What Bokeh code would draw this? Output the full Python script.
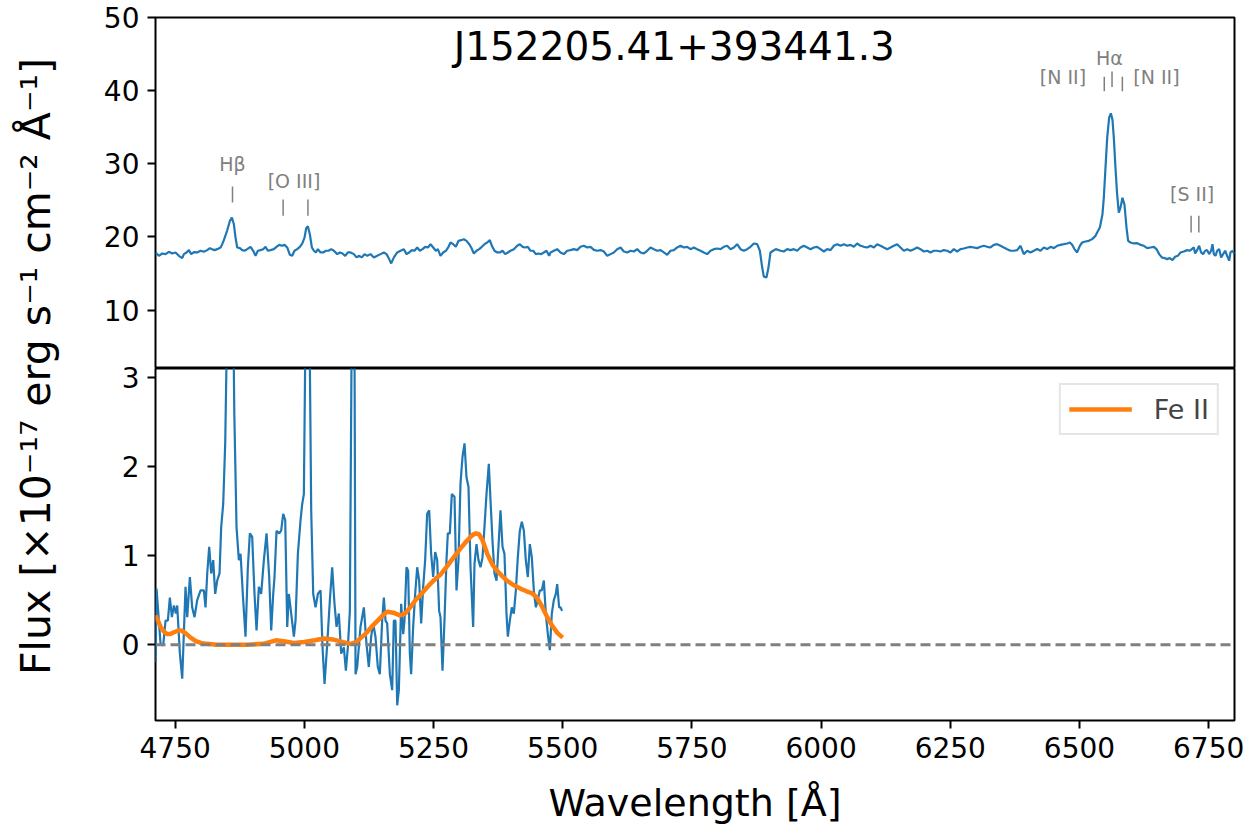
from math import pi
from bokeh.plotting import figure
from bokeh.layouts import row, column
from bokeh.models import Label, Range1d, FixedTicker, Span, Legend, LegendItem
from bokeh.embed import file_html
from bokeh.resources import INLINE
from bokeh.core.properties import value

FONT = "DejaVu Sans"

# ---------------- data: observed spectrum (top panel) ----------------
wl_top = [4712.1, 4718.5, 4725.0, 4731.4, 4737.9, 4744.3, 4750.8, 4757.2, 4763.7, 4766.9,
          4772.1, 4776.6, 4781.1, 4786.3, 4792.7, 4799.2, 4805.6, 4812.1, 4817.2, 4821.7,
          4826.2, 4831.4, 4837.9, 4841.1, 4844.3, 4850.8, 4855.9, 4859.8, 4863.7, 4866.9,
          4870.1, 4875.3, 4879.8, 4884.3, 4889.5, 4895.9, 4901.1, 4905.6, 4910.1, 4915.3,
          4920.4, 4924.9, 4929.4, 4934.6, 4941.0, 4946.2, 4951.4, 4956.5, 4961.7, 4966.9,
          4972.0, 4976.5, 4981.0, 4986.2, 4991.4, 4995.9, 5000.4, 5003.6, 5006.8, 5010.7,
          5014.6, 5018.5, 5022.3, 5026.2, 5031.4, 5036.5, 5041.7, 5046.8, 5052.0, 5057.2,
          5063.6, 5068.8, 5073.9, 5079.1, 5084.2, 5089.4, 5095.9, 5101.0, 5106.2, 5111.3,
          5116.5, 5121.7, 5128.1, 5134.6, 5141.0, 5147.5, 5153.9, 5159.1, 5164.2, 5168.1,
          5173.3, 5179.7, 5186.2, 5192.6, 5197.8, 5202.9, 5208.1, 5213.2, 5218.4, 5223.6,
          5228.7, 5233.9, 5239.0, 5244.2, 5249.4, 5254.5, 5258.4, 5263.5, 5268.7, 5273.9,
          5279.0, 5282.9, 5288.0, 5293.2, 5298.4, 5303.5, 5308.7, 5313.9, 5319.0, 5322.9,
          5328.1, 5333.2, 5338.4, 5343.5, 5348.7, 5353.9, 5359.0, 5362.9, 5368.0, 5373.2,
          5378.4, 5383.5, 5388.7, 5393.8, 5399.0, 5405.5, 5411.9, 5417.1, 5422.2, 5427.4,
          5432.5, 5437.7, 5442.9, 5448.0, 5453.2, 5458.3, 5463.5, 5468.7, 5473.8,
          5476.4, 5482.9, 5489.3, 5495.8, 5502.2, 5508.7, 5515.1, 5521.6, 5528.0, 5534.5,
          5540.9, 5547.4, 5553.8, 5560.3, 5566.7, 5573.2, 5579.6, 5586.1, 5592.5, 5599.0,
          5605.4, 5611.9, 5618.3, 5624.8, 5631.2, 5637.7, 5644.1, 5650.6, 5657.0, 5663.5,
          5669.9, 5676.4, 5682.8, 5689.3, 5695.7, 5702.2, 5708.6, 5715.1, 5721.5, 5728.0,
          5734.4, 5740.9, 5747.3, 5753.8, 5760.2, 5766.7, 5773.1, 5779.6, 5786.0, 5792.5,
          5798.9, 5805.4, 5811.8, 5818.3, 5824.7, 5831.2, 5837.6, 5844.1, 5850.5, 5857.0,
          5863.4, 5869.9, 5876.3, 5881.5, 5886.0, 5889.2, 5894.4, 5898.2, 5902.1, 5907.3,
          5912.4, 5921.5, 5927.9, 5934.4, 5940.8, 5947.3, 5953.7, 5960.2, 5966.6, 5973.1,
          5979.5, 5986.0, 5992.4, 5998.9, 6005.3, 6011.8, 6018.2, 6024.7, 6031.1, 6037.6,
          6044.0, 6050.5, 6056.9, 6063.4, 6069.8, 6076.3, 6082.7, 6089.2, 6095.6, 6102.1,
          6108.5, 6115.0, 6121.4, 6127.9, 6134.3, 6140.8, 6147.2, 6153.7, 6160.1, 6166.6,
          6173.0, 6179.5, 6185.9, 6192.4, 6198.8, 6205.3, 6211.7, 6218.2, 6224.6, 6231.1,
          6237.5, 6244.0, 6250.4, 6256.9, 6263.3, 6269.8, 6276.2, 6282.7, 6289.1, 6295.6,
          6302.0, 6308.5, 6314.9, 6321.4, 6327.8, 6334.3, 6340.7, 6347.2, 6353.6, 6360.1,
          6366.5, 6373.0, 6379.4, 6385.9, 6392.3, 6398.8,
          6405.2, 6411.7, 6418.1, 6424.6, 6431.0, 6437.5, 6443.9, 6450.4, 6456.8, 6463.3,
          6469.7, 6476.2, 6481.3, 6485.8, 6490.3, 6495.5, 6500.7, 6505.2, 6511.6, 6518.1,
          6524.5, 6531.0, 6534.2, 6539.4, 6541.9, 6544.5, 6547.1, 6550.3, 6553.6, 6557.4,
          6560.7, 6563.9, 6566.5, 6569.7, 6572.9, 6576.1, 6579.4, 6583.2, 6587.1, 6591.0,
          6594.2, 6598.7, 6605.2, 6611.6, 6618.1, 6624.5, 6631.0, 6637.4, 6643.9, 6649.0,
          6654.2, 6659.3, 6664.5, 6669.7, 6674.8, 6680.0, 6685.1, 6690.3, 6695.5, 6701.9,
          6708.4, 6713.5, 6717.4, 6721.3, 6723.8, 6727.7, 6731.6, 6735.4, 6739.3, 6743.2,
          6747.1, 6750.9, 6754.8, 6757.4, 6760.0, 6763.2, 6766.4, 6770.3, 6774.1, 6778.0,
          6781.9, 6785.8, 6789.6, 6792.2, 6796.1, 6800.0]
flux_top = [17.87, 17.41, 17.73, 17.64, 17.96, 17.73, 17.87, 17.41, 17.10, 17.64,
            17.87, 18.19, 17.64, 17.91, 17.87, 18.10, 17.96, 18.19, 18.46, 18.32,
            18.19, 18.32, 18.55, 19.00, 19.55, 20.90, 22.18, 22.63, 21.72, 19.90,
            18.55, 18.46, 18.19, 18.10, 18.32, 18.64, 18.10, 17.41, 18.10, 18.19,
            18.32, 18.64, 18.10, 18.19, 18.32, 18.64, 18.91, 18.78, 18.91, 18.55,
            17.55, 17.41, 18.10, 18.32, 18.64, 19.09, 19.90, 21.18, 21.45, 20.36,
            18.55, 18.10, 17.87, 18.32, 17.87, 17.87, 18.10, 18.10, 18.32, 18.10,
            17.64, 17.87, 17.73, 17.41, 17.87, 17.87, 17.64, 17.19, 17.41, 17.19,
            17.64, 17.41, 17.64, 17.19, 17.41, 17.64, 17.87, 17.64, 16.96, 16.37,
            17.19, 17.87, 18.10, 18.32, 17.64, 17.87, 18.19, 18.10, 18.55, 18.10,
            18.32, 18.64, 18.55, 19.00, 18.55, 18.10, 18.32, 17.41, 17.87, 18.10,
            18.64, 19.23, 19.00, 18.64, 19.46, 19.55, 19.68, 19.46, 19.00, 18.55,
            17.73, 18.10, 18.32, 18.64, 19.00, 19.23, 19.55, 18.78, 18.10, 17.87,
            17.87, 18.10, 17.64, 17.87, 18.10, 18.32, 18.78, 19.00, 18.64, 18.55,
            18.64, 18.10, 18.10, 17.64, 17.73, 17.64, 17.87, 18.10, 17.41,
            17.87, 18.10, 18.32, 17.87, 17.64, 18.10, 18.19, 18.32, 18.19, 18.64,
            18.78, 18.55, 18.64, 18.23, 18.10, 18.19, 18.00, 17.41, 17.64, 17.87,
            18.32, 18.55, 18.00, 17.87, 18.10, 18.00, 18.32, 17.87, 17.73, 18.10,
            18.55, 18.32, 18.10, 18.19, 17.87, 17.55, 18.10, 18.19, 18.55, 18.78,
            18.55, 18.64, 18.32, 18.55, 18.32, 18.10, 17.87, 17.64, 18.10, 18.32,
            18.41, 18.32, 18.64, 18.78, 18.32, 18.55, 19.00, 18.32, 18.10, 18.32,
            18.64, 19.09, 19.00, 18.10, 15.83, 14.56, 14.47, 15.83, 17.87, 18.10,
            18.32, 18.10, 18.00, 18.32, 18.19, 18.32, 18.10, 18.55, 18.78, 18.55,
            18.32, 18.55, 18.64, 18.32, 18.00, 18.32, 18.19, 18.78, 19.00, 18.78,
            19.00, 18.78, 18.91, 18.64, 19.09, 18.78, 18.64, 18.55, 18.78, 18.55,
            19.00, 18.78, 18.55, 18.32, 18.55, 18.78, 19.00, 18.55, 18.10, 18.32,
            18.10, 18.32, 18.55, 18.32, 18.00, 18.10, 17.87, 18.10, 18.10, 18.00,
            18.19, 18.10, 17.87, 18.32, 18.00, 18.32, 18.41, 18.55, 18.64, 18.55,
            18.46, 18.64, 18.78, 18.64, 18.55, 18.91, 19.00, 18.78, 18.55, 18.32,
            18.10, 18.10, 18.19, 18.78, 17.64, 18.10,
            17.87, 18.10, 18.33, 18.10, 18.55, 18.33, 18.64, 18.46, 18.78, 18.91,
            19.00, 19.10, 19.23, 18.91, 18.33, 17.87, 18.78, 19.23, 19.37, 19.46,
            19.69, 20.14, 20.60, 21.27, 22.18, 23.10, 25.35, 29.40, 33.50, 36.30,
            36.90, 36.00, 33.50, 29.40, 25.80, 23.30, 24.00, 25.35, 24.40, 21.27,
            19.46, 19.23, 19.10, 19.14, 18.91, 18.78, 18.46, 18.55, 18.64, 18.33,
            17.64, 17.19, 17.10, 16.96, 17.10, 16.83, 17.28, 17.41, 17.87, 18.00,
            18.19, 18.10, 18.33, 18.55, 17.73, 18.19, 18.78, 17.87, 17.64, 18.10,
            18.19, 17.64, 18.10, 19.00, 17.64, 17.41, 18.10, 18.33, 17.19, 17.64,
            18.10, 17.41, 16.74, 17.87, 18.10, 17.64]

# ---------------- data: residual spectrum (bottom panel) ----------------
wl_res = [4712.0, 4714.0, 4721.8, 4726.9, 4731.4, 4735.9, 4739.8, 4743.7, 4747.6, 4751.4,
          4754.0, 4759.2, 4763.7, 4770.1, 4773.4, 4778.5, 4783.0, 4787.5, 4792.7, 4799.2,
          4805.6, 4808.8, 4812.1, 4815.9, 4819.8, 4823.7, 4827.5, 4831.4, 4835.9, 4839.1,
          4843.0, 4846.9, 4850.0, 4853.0, 4856.0, 4859.0, 4862.0, 4864.5, 4868.8, 4873.3,
          4876.6, 4881.7, 4886.2, 4890.7, 4894.6, 4899.1, 4903.6, 4907.5, 4912.0, 4916.5,
          4921.7, 4926.9, 4932.0, 4935.9, 4939.8, 4942.3, 4946.2, 4951.4, 4955.2, 4959.1,
          4963.0, 4966.9, 4970.1, 4974.6, 4979.8, 4983.0, 4987.5, 4992.7, 4995.9, 4999.1,
          5002.0, 5005.0, 5007.5, 5010.0, 5013.3, 5017.2, 5021.7, 5026.2, 5031.4, 5035.2,
          5039.1, 5044.3, 5049.4, 5053.9, 5058.4, 5062.3, 5066.8, 5071.3, 5076.5, 5080.4,
          5084.2, 5088.1, 5092.0, 5094.5, 5097.0, 5099.1, 5102.3, 5108.7, 5115.2, 5120.3,
          5124.8, 5129.3, 5133.2, 5137.7, 5142.2, 5146.1, 5150.6, 5153.9, 5157.1, 5160.3,
          5165.5, 5170.0, 5173.2, 5176.4, 5179.7, 5182.9, 5187.4, 5191.3, 5193.8, 5197.7,
          5200.9, 5204.2, 5206.7, 5210.6, 5214.5, 5218.4, 5222.2, 5226.1, 5230.0, 5233.8,
          5237.7, 5241.6, 5245.4, 5249.3, 5253.2, 5257.1, 5260.9, 5263.5, 5267.4, 5271.2,
          5275.1, 5277.7, 5281.6, 5285.4, 5290.6, 5294.5, 5298.3, 5302.2, 5306.1, 5310.0,
          5313.8, 5317.7, 5321.6, 5326.7, 5329.3, 5333.2, 5337.0, 5340.9, 5344.8, 5348.6,
          5352.5, 5357.0, 5360.3, 5364.1, 5368.0, 5371.9, 5375.7, 5379.6, 5383.5, 5387.3,
          5391.2, 5393.8, 5397.7, 5401.5, 5405.4, 5409.3, 5413.1, 5417.0, 5420.9, 5424.8,
          5428.6, 5432.5, 5436.4, 5440.2, 5444.1, 5448.0, 5451.8, 5455.7, 5459.6, 5463.5,
          5467.3, 5471.2, 5475.1, 5478.9, 5482.8, 5486.7, 5489.3, 5493.1, 5495.7, 5498.9]
flux_res = [-0.20, 0.63, 0.01, -0.01, 0.27, 0.27, 0.53, 0.31, 0.44, 0.35,
            0.44, -0.10, -0.38, 0.65, 0.31, 0.76, 0.42, 0.31, 0.50, 0.61,
            0.61, 0.42, 0.80, 1.10, 0.80, 0.95, 0.57, 0.72, 0.80, 1.32,
            1.58, 2.26, 3.40, 4.60, 5.20, 4.90, 3.90, 2.60, 1.32, 0.95,
            1.02, 0.50, 0.09, 0.87, 1.25, 1.21, 0.57, 0.16, 0.65, 0.57,
            0.95, 1.25, 0.76, 0.16, 0.57, 0.76, 1.28, 1.25, 1.28, 1.47,
            1.40, 0.20, 0.57, 0.35, 0.09, 0.27, 1.02, 1.40, 1.58, 1.69,
            3.40, 4.30, 4.60, 3.60, 1.51, 0.57, 0.42, 0.57, 0.61, -0.03,
            -0.44, 0.01, 0.50, 0.87, 0.46, 0.20, 0.35, -0.10, -0.03, -0.29,
            -0.03, 0.38, 3.80, 4.50, 3.60, -0.33, -0.25, 0.20, 0.42, 0.01,
            -0.25, 0.09, 0.24, 0.09, -0.25, -0.33, 0.27, 0.53, 0.27, 0.24,
            -0.33, -0.51, 0.27, 0.27, -0.68, -0.51, 0.46, 0.12, 0.27, 0.87,
            0.83, -0.10, -0.33, 0.20, 0.57, 0.87, 0.72, 0.24, 0.65, 0.95,
            1.47, 1.51, 1.02, 0.76, 1.04, 0.95, 0.38, 0.31, -0.29, 0.27,
            0.95, 1.25, 1.25, 1.69, 1.66, 0.61, 0.95, 1.81, 2.11, 2.26,
            1.88, 1.77, 0.87, 0.20, 0.91, 1.13, 0.95, 0.87, 0.98, 1.32,
            1.69, 2.03, 1.62, 1.17, 0.80, 0.72, 1.10, 1.51, 1.10, 1.02,
            0.35, 0.09, 0.27, 0.42, 0.35, 0.61, 0.98, 1.28, 1.38, 1.28,
            0.95, 0.76, 1.13, 0.98, 0.61, 0.42, 0.50, 0.61, 0.61, 0.72,
            0.35, 0.12, -0.06, 0.35, 0.50, 0.57, 0.68, 0.42, 0.42, 0.38]

# ---------------- data: Fe II template ----------------
wl_fe = [4712, 4716, 4722, 4728, 4734, 4740, 4748, 4756, 4762, 4770,
         4780, 4790, 4800, 4812, 4830, 4860, 4890, 4920, 4945, 4960,
         4980, 5000, 5020, 5038, 5055, 5075, 5090, 5100, 5110, 5120,
         5130, 5140, 5150, 5160, 5172, 5185, 5195, 5205, 5215, 5228,
         5240, 5252, 5264, 5276, 5289, 5302, 5315, 5325, 5332, 5338,
         5345, 5354, 5364, 5373, 5383, 5392, 5405, 5418, 5430, 5440,
         5450, 5460, 5470, 5480, 5490, 5500]
flux_fe = [0.33, 0.28, 0.20, 0.15, 0.12, 0.12, 0.14, 0.16, 0.16, 0.13,
           0.08, 0.04, 0.02, 0.01, 0.00, 0.00, 0.00, 0.01, 0.05, 0.04,
           0.02, 0.03, 0.05, 0.07, 0.06, 0.03, 0.01, 0.03, 0.08, 0.13,
           0.20, 0.26, 0.32, 0.37, 0.36, 0.33, 0.35, 0.42, 0.50, 0.58,
           0.66, 0.73, 0.79, 0.88, 0.98, 1.08, 1.17, 1.23, 1.25, 1.24,
           1.17, 1.02, 0.90, 0.83, 0.77, 0.72, 0.67, 0.63, 0.60, 0.58,
           0.53, 0.43, 0.31, 0.21, 0.13, 0.08]

# ---------------- data: emission-line annotations ----------------
label_text = ["Hβ", "[O III]", "[N II]", "Hα", "[N II]", "[S II]"]
label_wl = [4861, 4980, 6468, 6558, 6649, 6718]
label_flux = [29.9, 27.7, 41.9, 44.4, 41.9, 25.8]
tick_wl = [4861, 4959, 5007, 6548, 6563, 6583, 6716, 6731]
tick_lo = [24.7, 22.9, 22.9, 39.9, 40.5, 39.9, 20.6, 20.6]
tick_hi = [26.9, 25.1, 25.1, 41.9, 42.6, 41.9, 22.9, 22.9]

title_text = "J152205.41+393441.3"
xlabel_text = "Wavelength [Å]"
ylabel_text = "Flux [×10⁻¹⁷ erg s⁻¹ cm⁻² Å⁻¹]"
x_ticks = [4750, 5000, 5250, 5500, 5750, 6000, 6250, 6500, 6750]
top_y_ticks = [10, 20, 30, 40, 50]
bot_y_ticks = [0, 1, 2, 3]

BLUE = "#1f77b4"
ORANGE = "#ff7f0e"
GRAY = "#808080"
XR = (4712, 6800)
OVERLAP = 22


def style_axes(p):
    p.grid.visible = False
    p.outline_line_color = "black"
    p.outline_line_width = 2
    p.background_fill_color = "white"
    for ax in p.axis:
        ax.axis_line_color = None
        ax.major_tick_line_color = "black"
        ax.major_tick_line_width = 2
        ax.major_tick_in = 0
        ax.major_tick_out = 8
        ax.minor_tick_line_color = None
        ax.major_label_text_font = FONT
        ax.major_label_text_font_size = "28px"
        ax.major_label_text_color = "black"
        ax.major_label_standoff = 8
        ax.axis_label_text_font = FONT
        ax.axis_label_text_font_style = "normal"
        ax.axis_label_text_color = "black"


# ---------------- top panel ----------------
top = figure(frame_width=1079, frame_height=351, x_range=Range1d(*XR), y_range=Range1d(2, 50),
             output_backend="svg", toolbar_location=None, x_axis_location=None,
             min_border_left=77, min_border_right=16, min_border_top=17, min_border_bottom=0)
style_axes(top)
top.border_fill_color = "white"
top.yaxis.ticker = FixedTicker(ticks=top_y_ticks)
top.line(wl_top, flux_top, line_color=BLUE, line_width=2.2)
top.segment(x0=tick_wl, y0=tick_lo, x1=tick_wl, y1=tick_hi, line_color=GRAY, line_width=1.5)
top.text(x=label_wl, y=label_flux, text=label_text, text_color=GRAY,
         text_font=value(FONT), text_font_size="19px", text_align="center", text_baseline="middle")
top.add_layout(Label(x=5716, y=46.0, text=title_text, text_font=FONT, text_font_size="39px",
                     text_align="center", text_baseline="middle", text_color="black"))

# ---------------- bottom panel ----------------
bot = figure(frame_width=1079, frame_height=352, x_range=top.x_range, y_range=Range1d(-0.85, 3.1),
             output_backend="svg", toolbar_location=None,
             min_border_left=77, min_border_right=16, min_border_top=OVERLAP, min_border_bottom=112,
             styles={"margin-top": "-%dpx" % OVERLAP})
style_axes(bot)
bot.border_fill_alpha = 0
bot.xaxis.ticker = FixedTicker(ticks=x_ticks)
bot.yaxis.ticker = FixedTicker(ticks=bot_y_ticks)
bot.xaxis.axis_label = xlabel_text
bot.xaxis.axis_label_text_font_size = "38px"
bot.xaxis.axis_label_standoff = 20
bot.add_layout(Span(location=0, dimension="width", line_color=GRAY, line_width=3, line_dash="10 5"))
bot.line(wl_res, flux_res, line_color=BLUE, line_width=2.2)
fe = bot.line(wl_fe, flux_fe, line_color=ORANGE, line_width=4.5)
legend = Legend(items=[LegendItem(label="Fe II", renderers=[fe])], location="top_right")
legend.margin = 15
legend.padding = 8
legend.glyph_width = 63
legend.glyph_height = 32
legend.label_standoff = 22
legend.label_text_font = FONT
legend.label_text_font_size = "27px"
legend.border_line_color = "#cccccc"
legend.border_line_width = 2
legend.background_fill_alpha = 0.8
bot.add_layout(legend, "center")

# ---------------- shared y label ----------------
lab = figure(width=78, height=834, x_range=Range1d(0, 1), y_range=Range1d(0, 1),
             x_axis_location=None, y_axis_location=None, toolbar_location=None,
             output_backend="svg", min_border=0)
lab.outline_line_color = None
lab.grid.visible = False
lab.add_layout(Label(x=0.45, y=1 - 366 / 834, text=ylabel_text, angle=pi / 2, text_font=FONT,
                     text_font_size="41px", text_align="center", text_baseline="middle",
                     text_color="black"))

layout = row(lab, column(top, bot))
open("out.html", "w").write(file_html(layout, INLINE))
